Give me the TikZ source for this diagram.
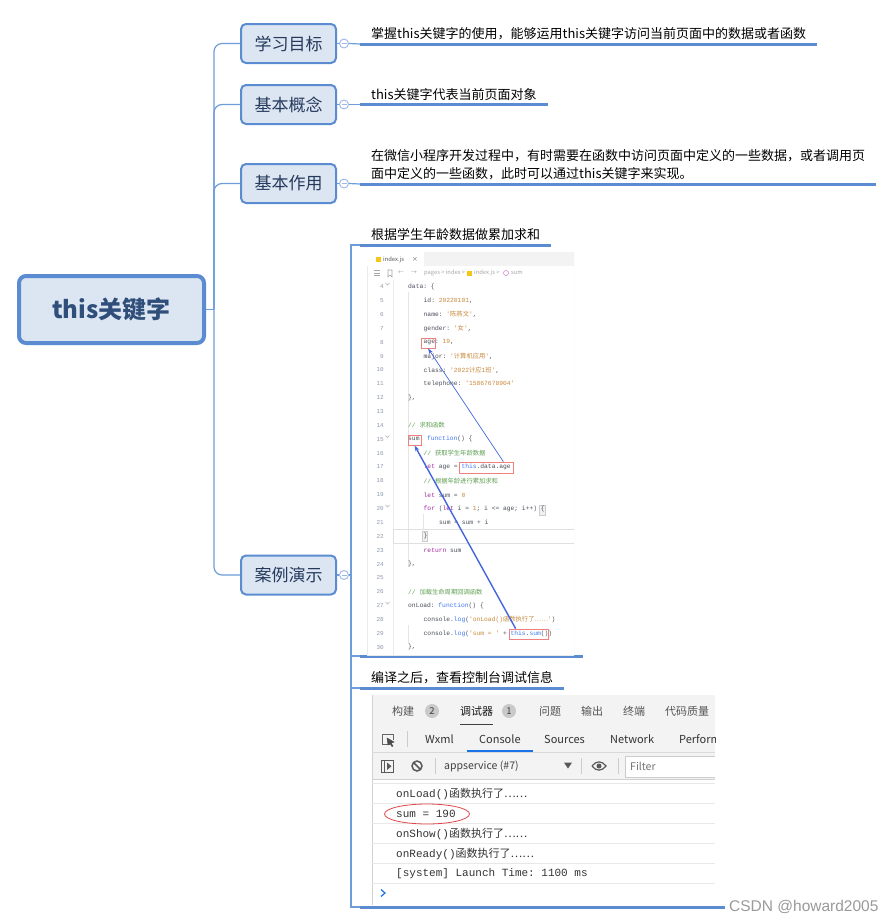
\documentclass[tikz,border=0pt]{standalone}
\usepackage{fontspec}
\setmainfont{Noto Sans CJK SC}
\setmonofont{Liberation Mono}
\newfontfamily\cjk{Noto Sans CJK SC}
\newfontfamily\wmfont{Liberation Sans}
\usetikzlibrary{positioning}
\usetikzlibrary{arrows.meta}
\usetikzlibrary{calc}

\definecolor{mmblue}{HTML}{5B8CD2}
\definecolor{mmline}{HTML}{6F9DDA}
\definecolor{mmfill}{HTML}{DCE6F2}
\definecolor{mmtext}{HTML}{25395C}
\definecolor{roottext}{HTML}{2F4E7A}
\definecolor{foldblue}{HTML}{9DB8E6}
\definecolor{tabbar}{HTML}{F3F3F3}
\definecolor{jsyellow}{HTML}{F5C518}
\definecolor{gutter}{HTML}{8E9AAA}
\definecolor{cplain}{HTML}{4A4F5A}
\definecolor{ckey}{HTML}{A626A4}
\definecolor{cfun}{HTML}{4078F2}
\definecolor{cnum}{HTML}{C8883A}
\definecolor{cstr}{HTML}{C8883A}
\definecolor{ccmt}{HTML}{5FA052}
\definecolor{boxred}{HTML}{F08080}
\definecolor{linkblue}{HTML}{4466DD}
\definecolor{panel}{HTML}{F3F3F3}
\definecolor{rule}{HTML}{E3E3E3}
\definecolor{uigray}{HTML}{555555}
\definecolor{badge}{HTML}{C9C9C9}
\definecolor{tabblue}{HTML}{1A73E8}
\definecolor{ovalred}{HTML}{E0474C}
\definecolor{wmgray}{HTML}{9A9A9A}

% code colouring
\newcommand\kwd[1]{\textcolor{ckey}{#1}}
\newcommand\fnc[1]{\textcolor{cfun}{#1}}
\newcommand\numv[1]{\textcolor{cnum}{#1}}
\newcommand\strv[1]{\textcolor{cstr}{#1}}
\newcommand\cmtv[1]{\textcolor{ccmt}{/\kern0pt/ {\cjk #1}}}

\begin{document}
\begin{tikzpicture}[x=1pt, y=-1pt,
  root/.style={draw=mmblue, line width=4pt, fill=mmfill, rounded corners=7pt,
    minimum width=185pt, minimum height=67pt, text=roottext,
    font=\fontsize{24}{28}\selectfont\bfseries},
  topic/.style={draw=mmblue, line width=2pt, fill=mmfill, rounded corners=5pt,
    minimum width=95pt, minimum height=39pt, text=mmtext,
    font=\fontsize{17}{20}\selectfont},
  fold/.style={circle, draw=foldblue, fill=white, line width=0.9pt, minimum size=9pt, inner sep=0pt,
    path picture={\draw[foldblue, line width=0.9pt] ([xshift=2pt]path picture bounding box.west)
      -- ([xshift=-2pt]path picture bounding box.east);}},
  leaf/.style={anchor=south west, inner xsep=11pt, inner ysep=4pt, align=left,
    font=\fontsize{13}{18}\selectfont},
  shot/.style={anchor=south west, inner sep=0pt},
  branch/.style={draw=mmline, line width=1.2pt},
  uline/.style={draw=mmblue, line width=3pt},
  uitiny/.style={inner sep=0pt, text=uigray, font=\fontsize{5.8}{7}\selectfont},
  lnum/.style={anchor=east, inner sep=0pt, text=gutter, font=\fontsize{6}{7}\ttfamily},
  codeline/.style={anchor=west, inner sep=0pt, text=cplain, font=\fontsize{6.3}{7}\ttfamily},
  redbox/.style={draw=boxred, line width=0.7pt, inner sep=0pt},
  link/.style={-{Stealth[length=6pt,width=4pt]}, draw=linkblue},
  uitext/.style={anchor=west, inner sep=0pt, text=uigray, font=\fontsize{11}{13}\selectfont},
  logline/.style={anchor=west, inner sep=0pt, text=black!80, font=\fontsize{11}{13}\ttfamily},
  sepline/.style={draw=black!25, line width=0.8pt}]

  % page
  \fill[white] (0,0) rectangle (895,924);
  \useasboundingbox (0,0) rectangle (895,924);

  % central topic
  \node[root] (root) at (111.5,309.5) {this关键字};
  \coordinate (hub) at (214,309.5);
  \draw[branch] (root.east) -- (hub);

  % main topics
  \foreach \tp/\ypos/\txt in {goal/43.5/学习目标, idea/104.5/基本概念, use/183.5/基本作用, demo/575/案例演示} {
    \node[topic] (\tp) at (288.5,\ypos) {\txt};
    \node[fold] (f\tp) at (344,\ypos) {};
    \draw[branch, rounded corners=8pt] (hub) |- (\tp.west);
    \draw[branch] (\tp.east) -- (f\tp.west);
  }

  % subtopics
  \node[leaf] (tgoal) at (360,44) {掌握this关键字的使用，能够运用this关键字访问当前页面中的数据或者函数};
  \node[leaf] (tidea) at (360,104.5) {this关键字代表当前页面对象};
  \node[leaf] (tuse) at (360,184) {在微信小程序开发过程中，有时需要在函数中访问页面中定义的一些数据，或者调用页\\面中定义的一些函数，此时可以通过this关键字来实现。};
  \foreach \tp in {goal, idea, use} {
    \draw[branch] (f\tp.east) -- (t\tp.south west);
    \draw[uline] (t\tp.south west) -- (t\tp.south east);
  }

  % case study
  \coordinate (dhub) at (351,575);
  \draw[branch] (fdemo.east) -- (dhub);
  \node[leaf] (tsum) at (360,245) {根据学生年龄数据做累加求和};
  \node[shot, minimum width=223pt, minimum height=404pt] (code) at (360,656) {};
  \node[leaf] (tlog) at (360,688) {编译之后，查看控制台调试信息};
  \node[shot, minimum width=365pt, minimum height=212pt] (cons) at (360,907) {};
  \foreach \tp in {tsum, code, tlog, cons} {
    \draw[branch] (dhub) |- (\tp.south west);
    \draw[uline] (\tp.south west) -- (\tp.south east);
  }

  % editor screenshot
  \begin{scope}
    \clip (367,252) rectangle (574,655);
    \draw[black!8] (367,252) rectangle (574,655);
    \fill[tabbar] (367,252) rectangle (574,266);
    \fill[white] (367,252) rectangle (424,266);
    \fill[jsyellow] (376,257) rectangle (381,262);
    \node[uitiny, anchor=west] (tabname) at (383,259.5) {index.js};
    \node[uitiny, anchor=west] (tabx) at (412,259.5) {×};
    \foreach \yy in {270.5,273,275.5}
      \draw[black!35, line width=0.6pt] (374,\yy) -- (380,\yy);
    \draw[black!35, line width=0.6pt] (388,270) -- (388,277) -- (390,275) -- (392,277) -- (392,270) -- cycle;
    \node[uitiny, text=black!35] (back) at (401,273) {←};
    \node[uitiny, text=black!35] (fwd) at (414,273) {→};
    \node[uitiny, text=black!35, anchor=west] (crumb) at (424,273) {pages > index >};
    \fill[jsyellow] (467,271) rectangle (471.5,275.5);
    \node[uitiny, text=black!35, anchor=west] (crumbjs) at (474,273) {index.js >};
    \draw[ckey!60, line width=0.5pt] (506,273) circle (2.5pt);
    \node[uitiny, text=black!35, anchor=west] (crumbfn) at (511,273) {sum};

    % gutter and guides
    \draw[black!8] (393,280) -- (393,655);
    \foreach \xa/\ya/\yb in {408.5/292/447, 408.5/445/567, 423.5/514/530, 408.5/625/643}
      \draw[black!10, line width=0.6pt] (\xa,\ya) -- (\xa,\yb);
    \draw[black!12, line width=0.6pt] (393,529.5) rectangle (580,543);
    \fill[black!6] (539.5,505) rectangle (545,515);
    \draw[black!20, line width=0.4pt] (539.5,505) rectangle (545,515);
    \fill[black!6] (422,531) rectangle (427.5,541.5);
    \draw[black!20, line width=0.4pt] (422,531) rectangle (427.5,541.5);

    % line numbers
    \foreach \n in {4,...,30}
      \node[lnum] (num\n) at (384,{286.7+(\n-4)*13.87}) {\n};
    \foreach \n in {4,15,20,27}
      \draw[black!30, line width=0.5pt] (385.5,{283+(\n-4)*13.87}) -- (387.5,{285+(\n-4)*13.87}) -- (389.5,{283+(\n-4)*13.87});

    % source lines
    \foreach \n/\lv/\src in {
      4/1/{data: \{},
      5/2/{id: \numv{20220101},},
      6/2/{name: \strv{'{\cjk 陈燕文}'},},
      7/2/{gender: \strv{'{\cjk 女}'},},
      8/2/{age: \numv{19},},
      9/2/{major: \strv{'{\cjk 计算机应用}'},},
      10/2/{class: \strv{'2022{\cjk 计应}1{\cjk 班}'},},
      11/2/{telephone: \strv{'15867678904'}},
      12/1/{\},},
      14/1/{\cmtv{求和函数}},
      15/1/{sum: \fnc{function}() \{},
      16/2/{\cmtv{获取学生年龄数据}},
      17/2/{\kwd{let} age = \fnc{this}.data.age},
      18/2/{\cmtv{根据年龄进行累加求和}},
      19/2/{\kwd{let} sum = \numv{0}},
      20/2/{\kwd{for} (\kwd{let} i = \numv{1}; i <= age; i++) \{},
      21/3/{sum = sum + i},
      22/2/{\}},
      23/2/{\kwd{return} sum},
      24/1/{\},},
      26/1/{\cmtv{加载生命周期回调函数}},
      27/1/{onLoad: \fnc{function}() \{},
      28/2/{console.\fnc{log}(\strv{'onLoad(){\cjk 函数执行了……}'})},
      29/2/{console.\fnc{log}(\strv{'sum = '} + \fnc{this}.\fnc{sum}())},
      30/1/{\},}}
      \node[codeline] (src\n) at ({392.5+\lv*15.5},{286.7+(\n-4)*13.87}) {\src};
  \end{scope}

  % marked spots and links
  \node[redbox, minimum width=14pt, minimum height=10pt] (agebox) at (428,343) {};
  \node[redbox, minimum width=13pt, minimum height=10pt] (sumbox) at (414.5,440) {};
  \node[redbox, minimum width=54pt, minimum height=11pt] (thisage) at (486,467.5) {};
  \node[redbox, minimum width=39pt, minimum height=10pt] (thissum) at (528.5,634) {};
  \draw[link, line width=0.7pt] ([xshift=-10pt]thisage.north east) -- (agebox.south);
  \draw[link, line width=1.4pt] ([xshift=7pt]thissum.north west) -- (sumbox.south);

  % console screenshot
  \begin{scope}
    \clip (372,695) rectangle (715,905);
    \fill[panel] (372,695) rectangle (715,779);
    \draw[black!18] (372,695) -- (372,905);

    % tool tabs
    \foreach \xx/\txt in {392/构建, 539/问题, 581/输出, 623/终端, 665/代码质量}
      \node[uitext] at (\xx,711) {\txt};
    \node[uitext, text=black!90] (dbg) at (460,711) {调试器};
    \draw[black!75, line width=1pt] (460,724) -- (493,724);
    \foreach \xx/\cnt in {432/2, 509/1} {
      \fill[badge] (\xx,711) circle (7pt);
      \node[inner sep=0pt, text=black!75, font=\fontsize{9.5}{11}\selectfont] at (\xx,711) {\cnt};
    }

    % panel tabs
    \draw[black!60, line width=0.8pt] (390,744) -- (382,744) -- (382,734) -- (393,734) -- (393,740);
    \draw[black!70, fill=black!70, line width=0.5pt] (387,738) -- (394,742) -- (391,743) -- (393,746) -- (392,746.5) -- (390,743.5) -- (388,745) -- cycle;
    \draw[black!20] (407,731) -- (407,747);
    \foreach \xx/\txt in {425/Wxml, 479/Console, 544/Sources, 610/Network, 679/Performance}
      \node[uitext, text=black!80] at (\xx,739) {\txt};
    \draw[tabblue, line width=2pt] (467,750.5) -- (533,750.5);
    \draw[black!15] (372,752) -- (715,752);

    % filter bar
    \draw[black!65, line width=0.9pt] (381.5,760.5) rectangle (393.5,772);
    \draw[black!65, line width=0.9pt] (384.5,760.5) -- (384.5,772);
    \fill[black!65] (387,762.5) -- (391.5,766.2) -- (387,770) -- cycle;
    \draw[black!65, line width=1.5pt] (417,766) circle (5pt);
    \draw[black!65, line width=1.5pt] (413.5,762.5) -- (420.5,769.5);
    \draw[black!20] (435,758) -- (435,774);
    \node[uitext, text=black!75, font=\fontsize{10.5}{12}\selectfont] (ctx) at (444,766) {appservice (\#7)};
    \fill[black!65] (564,762.5) -- (572,762.5) -- (568,768.5) -- cycle;
    \draw[black!20] (581,758) -- (581,774);
    \draw[black!65, line width=1.2pt] (592,766) .. controls (596,760.5) and (602,760.5) .. (606,766) .. controls (602,771.5) and (596,771.5) .. (592,766);
    \fill[black!65] (599,766) circle (2.5pt);
    \draw[black!20] (618,758) -- (618,774);
    \draw[black!20, fill=white] (625,756) rectangle (720,777);
    \node[uitext, text=black!55, font=\fontsize{10.5}{12}\selectfont] (filt) at (630,766.5) {Filter};
    \draw[black!18] (372,779) -- (715,779);

    % log output
    \foreach \yy in {783,803,823,843,863,883}
      \draw[black!9] (372,\yy) -- (715,\yy);
    \node[logline] (log1) at (396,794) {onLoad(){\cjk 函数执行了……}};
    \node[logline] (log2) at (396,814) {sum = 190};
    \node[logline] (log3) at (396,834) {onShow(){\cjk 函数执行了……}};
    \node[logline] (log4) at (396,854) {onReady(){\cjk 函数执行了……}};
    \node[logline] (log5) at (396,874) {[system] Launch Time: 1100 ms};
    \draw[tabblue, line width=1.2pt] (381,889.5) -- (385,893) -- (381,896.5);
  \end{scope}
  \draw[ovalred, line width=0.8pt] (427,814) ellipse (42.5pt and 10pt);

  % watermark
  \node[anchor=west, inner sep=0pt, text=wmgray, font=\wmfont\fontsize{15.5}{17}\selectfont] (mark) at (729,907) {CSDN @howard2005};

\end{tikzpicture}
\end{document}
